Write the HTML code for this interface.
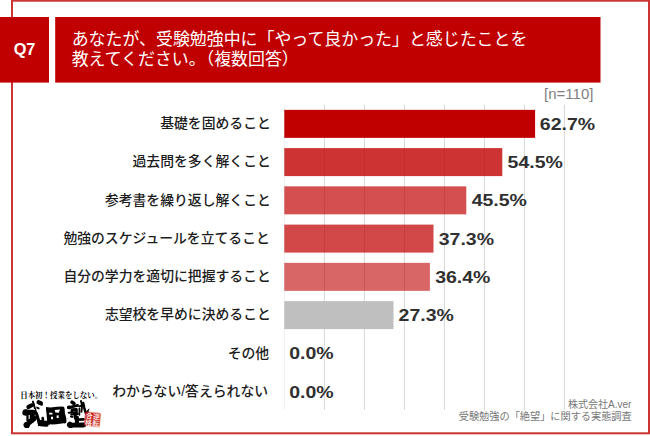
<!DOCTYPE html>
<html lang="ja">
<head>
<meta charset="utf-8">
<title>Q7 受験勉強中に「やって良かった」と感じたこと</title>
<style>
html,body{margin:0;padding:0;background:#fff;}
body{width:650px;height:436px;overflow:hidden;font-family:"Liberation Sans",sans-serif;}
svg{display:block;}
svg text{font-family:"Liberation Sans","Noto Sans CJK JP",sans-serif;}
</style>
</head>
<body>
<svg width="650" height="436" viewBox="0 0 650 436" role="img" aria-label="Q7 あなたが、受験勉強中に「やって良かった」と感じたことを教えてください。（複数回答）">
<desc>Q7 あなたが、受験勉強中に「やって良かった」と感じたことを教えてください。（複数回答） [n=110] 基礎を固めること 62.7% / 過去問を多く解くこと 54.5% / 参考書を繰り返し解くこと 45.5% / 勉強のスケジュールを立てること 37.3% / 自分の学力を適切に把握すること 36.4% / 志望校を早めに決めること 27.3% / その他 0.0% / わからない/答えられない 0.0% — 株式会社A.ver 受験勉強の「絶望」に関する実態調査 — 日本初！授業をしない。武田塾</desc>
<rect x="12" y="0.7" width="637" height="432.6" fill="none" stroke="#CC3333" stroke-width="2"/>
<rect x="0" y="17" width="49" height="65.6" fill="#C00000"/>
<rect x="55.2" y="17" width="545.3" height="65.6" fill="#C00000"/>
<rect x="283.9" y="104.7" width="1" height="305.3" fill="#F1F1F1"/>
<rect x="323.9" y="104.7" width="1" height="305.3" fill="#D6D6D6"/>
<rect x="363.9" y="104.7" width="1" height="305.3" fill="#D6D6D6"/>
<rect x="403.9" y="104.7" width="1" height="305.3" fill="#D6D6D6"/>
<rect x="443.9" y="104.7" width="1" height="305.3" fill="#D6D6D6"/>
<rect x="483.9" y="104.7" width="1" height="305.3" fill="#D6D6D6"/>
<rect x="523.9" y="104.7" width="1" height="305.3" fill="#D6D6D6"/>
<rect x="563.9" y="104.7" width="1" height="305.3" fill="#D6D6D6"/>
<rect x="284.3" y="109.85" width="250.8" height="28" fill="#C00000" fill-opacity="1.0"/>
<rect x="284.3" y="148.1" width="218" height="28" fill="#C00000" fill-opacity="0.8"/>
<rect x="284.3" y="186.35" width="182" height="28" fill="#C00000" fill-opacity="0.69"/>
<rect x="284.3" y="224.6" width="149.2" height="28" fill="#C00000" fill-opacity="0.72"/>
<rect x="284.3" y="262.85" width="145.6" height="28" fill="#C00000" fill-opacity="0.6"/>
<rect x="284.3" y="301.1" width="109.2" height="28" fill="#BFBFBF" fill-opacity="1.0"/>
<text x="13.65" y="55.25" font-size="16.3" font-weight="bold" fill="#fff">Q7</text>
<text x="71.7" y="45.05" font-size="16.93" fill="#fff">あなたが、受験勉強中に「やって良かった」と感じたことを</text>
<text x="71.7" y="65.05" font-size="16.93" fill="#fff">教えてください。（複数回答）</text>
<text x="544.09" y="98.6" font-size="15" fill="#808080">[n=110]</text>
<text x="160.2" y="128" font-size="13.83" font-weight="500" fill="#1c1c1c">基礎を固めること</text>
<text x="132.54" y="166.25" font-size="13.83" font-weight="500" fill="#1c1c1c">過去問を多く解くこと</text>
<text x="104.88" y="204.5" font-size="13.83" font-weight="500" fill="#1c1c1c">参考書を繰り返し解くこと</text>
<text x="63.39" y="242.75" font-size="13.83" font-weight="500" fill="#1c1c1c">勉強のスケジュールを立てること</text>
<text x="63.39" y="281" font-size="13.83" font-weight="500" fill="#1c1c1c">自分の学力を適切に把握すること</text>
<text x="104.88" y="319.25" font-size="13.83" font-weight="500" fill="#1c1c1c">志望校を早めに決めること</text>
<text x="227.65" y="357.5" font-size="13.83" font-weight="500" fill="#1c1c1c">その他</text>
<text x="112.14" y="395.75" font-size="13.83" font-weight="500" fill="#1c1c1c">わからない/答えられない</text>
<text x="539.89" y="129.75" font-size="17" font-weight="bold" fill="#303030" textLength="55.2" lengthAdjust="spacingAndGlyphs">62.7%</text>
<text x="507.59" y="168" font-size="17" font-weight="bold" fill="#303030" textLength="55.2" lengthAdjust="spacingAndGlyphs">54.5%</text>
<text x="471.72" y="206.25" font-size="17" font-weight="bold" fill="#303030" textLength="55.2" lengthAdjust="spacingAndGlyphs">45.5%</text>
<text x="438.77" y="244.5" font-size="17" font-weight="bold" fill="#303030" textLength="55.2" lengthAdjust="spacingAndGlyphs">37.3%</text>
<text x="435.17" y="282.75" font-size="17" font-weight="bold" fill="#303030" textLength="55.2" lengthAdjust="spacingAndGlyphs">36.4%</text>
<text x="398.58" y="321" font-size="17" font-weight="bold" fill="#303030" textLength="55.2" lengthAdjust="spacingAndGlyphs">27.3%</text>
<text x="289.21" y="359.25" font-size="17" font-weight="bold" fill="#303030" textLength="44.4" lengthAdjust="spacingAndGlyphs">0.0%</text>
<text x="289.21" y="397.5" font-size="17" font-weight="bold" fill="#303030" textLength="44.4" lengthAdjust="spacingAndGlyphs">0.0%</text>
<text x="567.98" y="407.6" font-size="10" fill="#777">株式会社A.ver</text>
<text x="458.77" y="419.8" font-size="10.18" fill="#777">受験勉強の「絶望」に関する実態調査</text>
<text x="20.21" y="397.7" font-size="7.96" font-weight="bold" fill="#000" style="font-family:'Liberation Serif','Noto Serif CJK SC',serif;" textLength="82" lengthAdjust="spacingAndGlyphs">日本初！授業をしない。</text>
<defs><filter id="rough" x="-5%" y="-10%" width="110%" height="120%"><feTurbulence type="fractalNoise" baseFrequency="0.55" numOctaves="2" seed="7" result="n"/><feDisplacementMap in="SourceGraphic" in2="n" scale="1.6" xChannelSelector="R" yChannelSelector="G"/></filter></defs>
<g filter="url(#rough)"><g transform="translate(0.2 400.7) scale(1 1.085) translate(0 -401)">
<g fill="none" stroke="#000" stroke-linecap="round" stroke-linejoin="round">
<g transform="translate(0.7 0)">
<path d="M27.4 406.8L30.6 405.3" stroke-width="3.84"/>
<path d="M30.6 405.3L32.8 404.6" stroke-width="2.26"/>
<path d="M37.6 402.4L40 403.3" stroke-width="4.07"/>
<path d="M39.5 403.3L41 404.6" stroke-width="2.03"/>
<path d="M36.2 407.3L37.8 408" stroke-width="1.81"/>
<path d="M32 401.9L35.6 413" stroke-width="1.92"/>
<path d="M35.6 413L38.4 421.5" stroke-width="3.16"/>
<path d="M39.6 421.7L45.2 422.2" stroke-width="5.65"/>
<path d="M41.8 417.2L42.2 420" stroke-width="2.71"/>
<path d="M24.4 411.7L32.2 411.8" stroke-width="4.75"/>
<path d="M24.4 411.8L25 411.9" stroke-width="5.99"/>
<path d="M31.4 413L31.2 419" stroke-width="4.97"/>
<path d="M26.6 414.6L26.6 419" stroke-width="2.26"/>
<path d="M28 419.4L30 419" stroke-width="2.71"/>
<path d="M25.6 423.5L33.6 417.2" stroke-width="4.52"/>
<path d="M25.5 423.4L26 423.9" stroke-width="5.65"/>
</g>
<g transform="translate(68 0) scale(1.05 1) translate(-68 0)">
<path d="M71.7 402.4L73.5 403.6" stroke-width="3.39"/>
<path d="M68.4 407.3L77 405.4" stroke-width="2.6"/>
<path d="M68.5 407.2L69.2 407.1" stroke-width="3.39"/>
<path d="M71.5 409.2L75.9 409L76 411.7L71.6 411.8L71.5 409.2" stroke-width="2.37"/>
<path d="M68.5 412.1L70.8 411.9" stroke-width="2.03"/>
<path d="M70.9 413.7L77.2 413.2" stroke-width="2.03"/>
<path d="M70.7 415.6L72 415.8" stroke-width="2.03"/>
<path d="M74.6 413.5L74.8 417" stroke-width="2.94"/>
<path d="M80.2 401.3L81.2 405.2L80.6 411.2" stroke-width="1.92"/>
<path d="M78.4 406.2L82.6 405" stroke-width="1.81"/>
<path d="M78.6 408L78.7 414" stroke-width="1.58"/>
<path d="M82.3 403.1L83.2 407.3L84.6 412L85.5 413.6" stroke-width="2.37"/>
<path d="M84.4 412.2L87.8 408.5L86.8 412.6Z" fill="#000" stroke-width="0.6"/>
<path d="M75.8 418.6L82.6 418.2" stroke-width="2.37"/>
<path d="M76.3 416.6L76.3 423" stroke-width="3.84"/>
<path d="M69.8 423.5L82.8 423.4" stroke-width="4.52"/>
<path d="M69.6 423.2L70.2 423.6" stroke-width="5.54"/>
</g>
</g>
<g transform="translate(0 407) scale(1 0.955) translate(0 -407)">
<path fill="#000" fill-rule="evenodd" d="M45.9 406.8 L50 407.2 L57 406.6 L62.5 406.3 Q64.6 406.6 64.4 408.5 L64.8 413 Q66.6 418 66.3 421 Q66 423 63.5 422.6 L56 423.4 L52 423.6 L48.5 423.3 Q47 423.3 47 421.5 L46.4 414 L45.7 408.5 Z M54.5 409.6 L59.8 409.1 L58.6 412.3 L55.2 412.0 Z M48.9 412.4 L52.3 412.3 L52.2 414.0 L49.0 414.1 Z M50.8 416.2 L52.8 416.1 L52.9 418.6 L50.9 418.7 Z M56.4 414.9 L58.4 414.8 L58.5 417.4 L56.5 417.5 Z"/>
</g>
</g></g>
<g transform="translate(0.4 0) rotate(6 92 419.5)">
<rect x="84.3" y="412.5" width="15.4" height="13.8" rx="0.9" fill="#C9281E" filter="url(#rough)"/>
<text x="84.9" y="418.9" font-size="7" font-weight="bold" fill="#fff" fill-opacity="0.9">合</text>
<text x="92.2" y="418.9" font-size="7" font-weight="bold" fill="#fff" fill-opacity="0.9">逆</text>
<text x="84.9" y="425.7" font-size="7" font-weight="bold" fill="#fff" fill-opacity="0.9">格</text>
<text x="92.2" y="425.7" font-size="7" font-weight="bold" fill="#fff" fill-opacity="0.9">転</text>
</g>
</svg>
</body>
</html>
